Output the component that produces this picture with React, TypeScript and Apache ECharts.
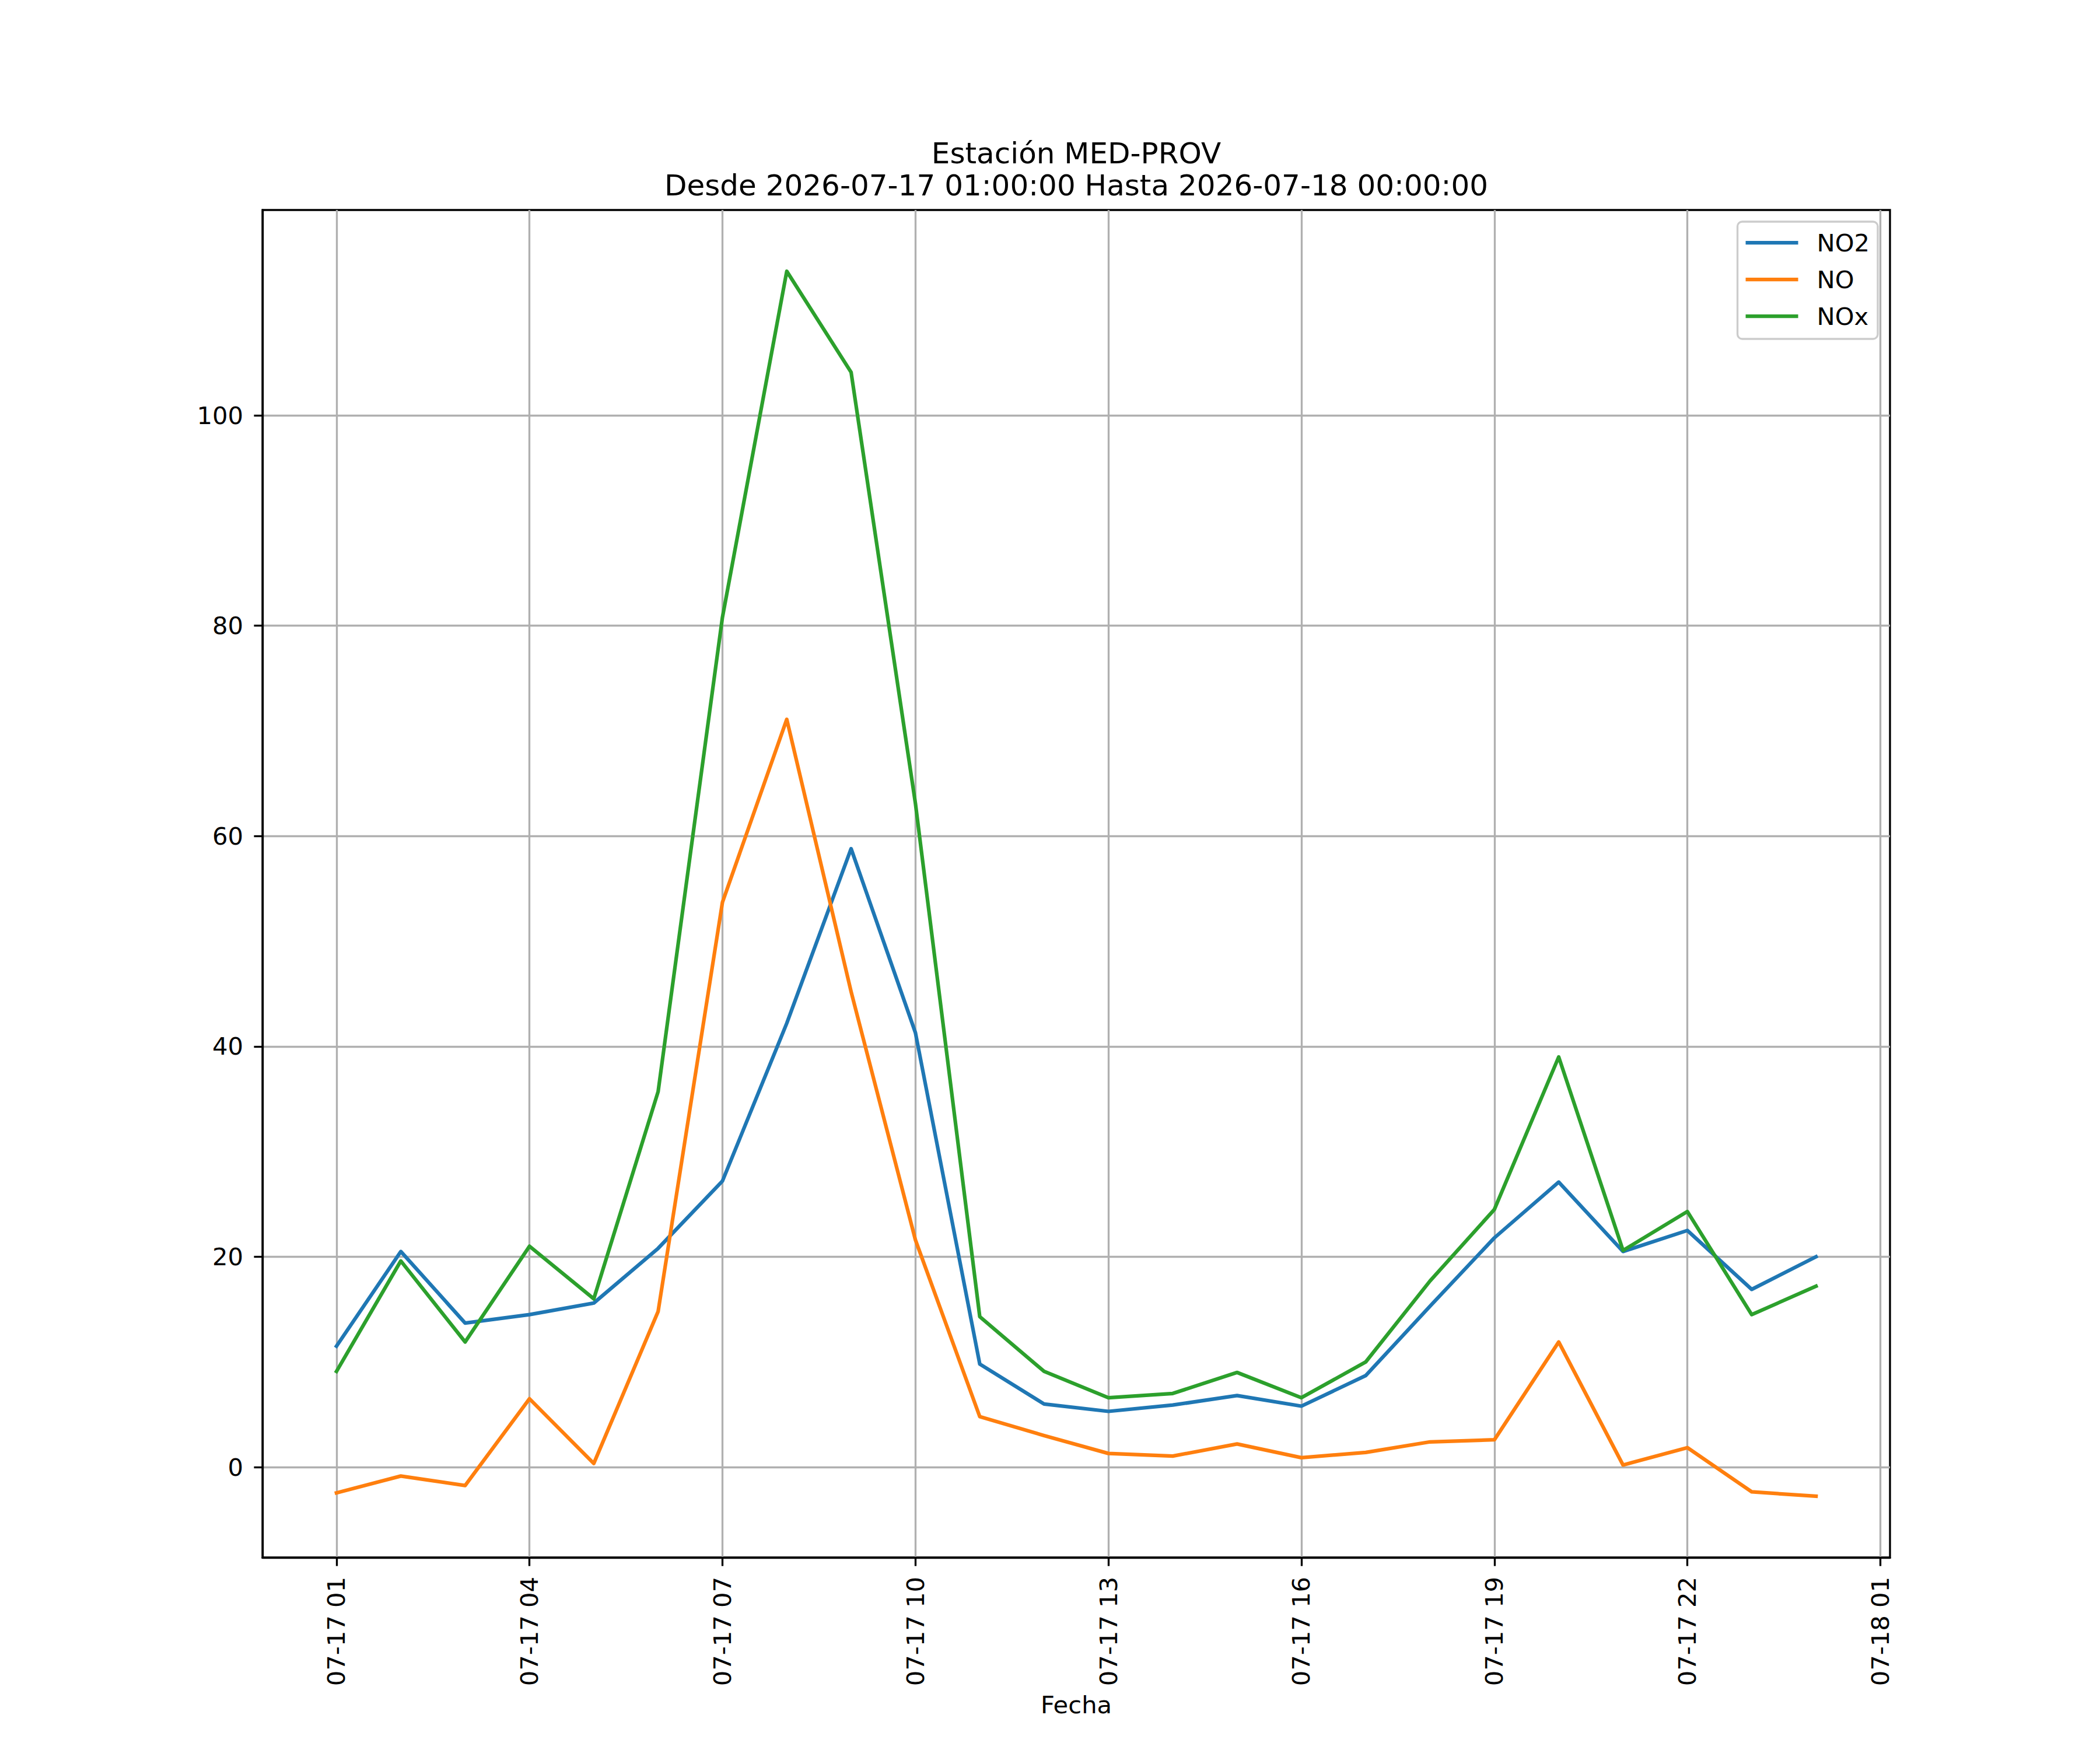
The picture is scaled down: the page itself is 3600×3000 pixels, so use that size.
import React, { useEffect, useRef } from "react";
import * as echarts from "echarts";

// Hours of 2026-07-17 01:00 .. 2026-07-18 00:00 (index 0..23)
const hours = [
  "01", "02", "03", "04", "05", "06", "07", "08", "09", "10", "11", "12",
  "13", "14", "15", "16", "17", "18", "19", "20", "21", "22", "23", "00",
];

const no2 = [
  11.5, 20.5, 13.7, 14.5, 15.6, 20.8, 27.2, 42.2, 58.8, 41.3, 9.8, 6.0,
  5.3, 5.9, 6.8, 5.8, 8.7, 15.3, 21.8, 27.1, 20.5, 22.5, 16.9, 20.0,
];

const no = [
  -2.45, -0.85, -1.75, 6.5, 0.35, 14.8, 53.7, 71.1, 45.2, 21.6, 4.8, 3.0,
  1.3, 1.05, 2.2, 0.9, 1.4, 2.4, 2.6, 11.9, 0.2, 1.85, -2.35, -2.77,
];

const nox = [
  9.1, 19.6, 11.9, 21.0, 16.0, 35.7, 80.8, 113.7, 104.1, 63.1, 14.3, 9.1,
  6.6, 7.0, 9.0, 6.6, 10.0, 17.7, 24.5, 39.0, 20.6, 24.3, 14.5, 17.2,
];

const seriesNames = ["NO2", "NO", "NOx"];
const seriesColors = ["#1f77b4", "#ff7f0e", "#2ca02c"];

const xTickHours = [0, 3, 6, 9, 12, 15, 18, 21, 24];
const xTickLabels = [
  "07-17 01", "07-17 04", "07-17 07", "07-17 10", "07-17 13",
  "07-17 16", "07-17 19", "07-17 22", "07-18 01",
];
const yTickValues = [0, 20, 40, 60, 80, 100];

const titleLines = [
  "Estación MED-PROV",
  "Desde 2026-07-17 01:00:00 Hasta 2026-07-18 00:00:00",
];
const xAxisName = "Fecha";

const FONT = "DejaVu Sans";
const FS = 41.67;
const LW = 6.25;
const THIN = 3.33;

export default function App() {
  const ref = useRef<HTMLDivElement>(null);

  useEffect(() => {
    document.body.style.margin = "0";
    if (!ref.current) return;
    const chart = echarts.init(ref.current, undefined, { renderer: "svg" });

    const all = [...no2, ...no, ...nox];
    const dMin = Math.min(...all);
    const dMax = Math.max(...all);
    const yPad = (dMax - dMin) * 0.05;
    const xPad = (hours.length - 1) * 0.05;

    const toPairs = (arr: number[]) => arr.map((v, i) => [i, v]);
    const datasets = [no2, no, nox];

    const option: any = {
      animation: false,
      backgroundColor: "#ffffff",
      grid: {
        left: 450,
        right: 360,
        top: 360,
        bottom: 330,
        show: true,
        borderColor: "#000000",
        borderWidth: THIN,
        backgroundColor: "transparent",
        containLabel: false,
        outerBoundsMode: "none",
      },
      xAxis: {
        type: "value",
        min: -xPad,
        max: hours.length - 1 + xPad,
        axisLine: { show: true, onZero: false, lineStyle: { color: "#000", width: THIN } },
        axisTick: {
          show: true,
          inside: false,
          length: 14.6,
          customValues: xTickHours,
          lineStyle: { color: "#000", width: THIN },
        },
        axisLabel: {
          show: true,
          customValues: xTickHours,
          rotate: 90,
          margin: 33,
          color: "#000",
          fontFamily: FONT,
          fontSize: FS,
          formatter: (v: number) => {
            const idx = xTickHours.indexOf(Math.round(v));
            return idx >= 0 ? xTickLabels[idx] : "";
          },
        },
        splitLine: { show: true, lineStyle: { color: "#b0b0b0", width: THIN } },
      },
      yAxis: {
        type: "value",
        min: dMin - yPad,
        max: dMax + yPad,
        axisLine: { show: true, onZero: false, lineStyle: { color: "#000", width: THIN } },
        axisTick: {
          show: true,
          inside: false,
          length: 14.6,
          customValues: yTickValues,
          lineStyle: { color: "#000", width: THIN },
        },
        axisLabel: {
          show: true,
          customValues: yTickValues,
          margin: 33,
          color: "#000",
          fontFamily: FONT,
          fontSize: FS,
          formatter: (v: number) => String(Math.round(v)),
        },
        splitLine: { show: true, lineStyle: { color: "#b0b0b0", width: THIN } },
      },
      legend: {
        show: true,
        orient: "vertical",
        right: 381,
        top: 380,
        padding: [15, 14, 18, 14],
        itemGap: 21,
        itemWidth: 90,
        itemHeight: LW,
        icon: "rect",
        borderColor: "#cccccc",
        borderWidth: THIN,
        borderRadius: 8,
        backgroundColor: "rgba(255,255,255,0.8)",
        data: seriesNames,
        textStyle: {
          color: "#000",
          fontFamily: FONT,
          fontSize: FS,
          lineHeight: 42,
          padding: [0, 0, 0, 27],
        },
      },
      graphic: [
        {
          type: "text",
          x: 1845,
          y: 263,
          style: {
            text: titleLines[0],
            fill: "#000",
            font: `50px "${FONT}"`,
            textAlign: "center",
            textVerticalAlign: "middle",
          },
        },
        {
          type: "text",
          x: 1845,
          y: 318,
          style: {
            text: titleLines[1],
            fill: "#000",
            font: `50px "${FONT}"`,
            textAlign: "center",
            textVerticalAlign: "middle",
          },
        },
        {
          type: "text",
          x: 1845,
          y: 2922,
          style: {
            text: xAxisName,
            fill: "#000",
            font: `${FS}px "${FONT}"`,
            textAlign: "center",
            textVerticalAlign: "middle",
          },
        },
      ],
      series: datasets.map((d, i) => ({
        name: seriesNames[i],
        type: "line",
        data: toPairs(d),
        symbol: "none",
        showSymbol: false,
        color: seriesColors[i],
        lineStyle: { color: seriesColors[i], width: LW, join: "round", cap: "square" },
        itemStyle: { color: seriesColors[i] },
        emphasis: { disabled: true },
        silent: true,
        clip: true,
      })),
    };

    chart.setOption(option);
    return () => chart.dispose();
  }, []);

  return <div ref={ref} style={{ width: 3600, height: 3000 }} />;
}
